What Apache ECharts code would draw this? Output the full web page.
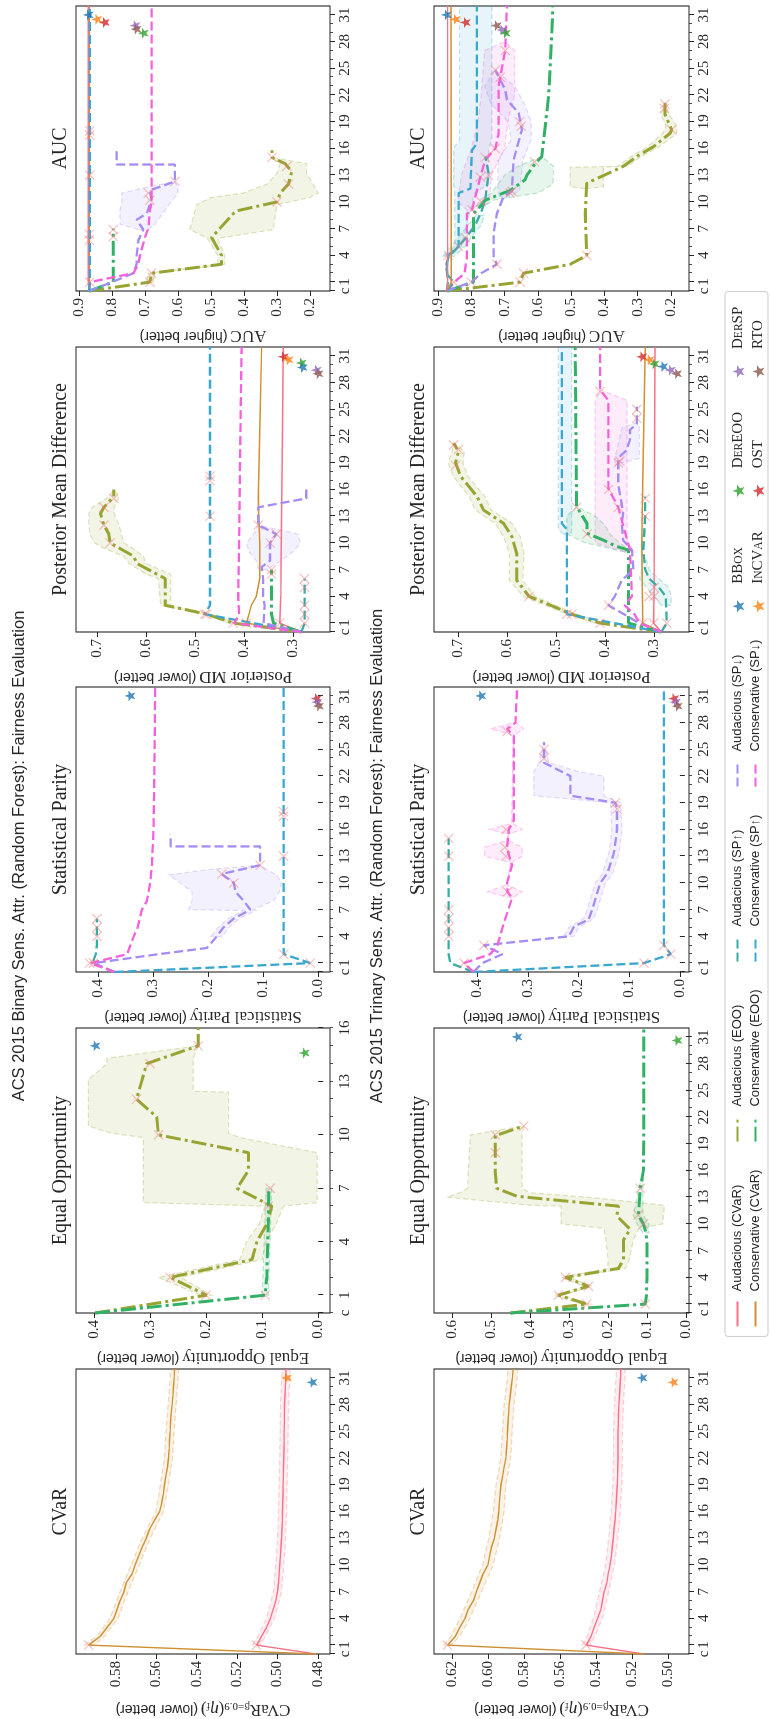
<!DOCTYPE html>
<html><head><meta charset="utf-8">
<script src="https://cdn.jsdelivr.net/npm/echarts@6/dist/echarts.min.js"></script>
<style>
html,body{margin:0;padding:0;background:#fff;width:771px;height:1719px;overflow:hidden}
#chart{position:absolute;left:0;top:0;width:1719px;height:771px;transform-origin:0 0;transform:translate(0,1719px) rotate(-90deg);background:#fff}
</style></head><body><div id="chart"></div>
<script>
// ================= DATA =================
// x tick labels / minor ticks
const XT32 = [0,1,4,7,10,13,16,19,22,25,28,31];
const XM32 = [0,1,2,3,4,5,6,7,8,9,10,11,12,13,14,15,16,17,18,19,20,21,22,23,24,25,26,27,28,29,30,31];
const XT16 = [0,1,4,7,10,13,16];
const XM16 = [0,1,2,3,4,5,6,7,8,9,10,11,12,13,14,15,16];
// y tick labels
const YT_B_CV = [0.48,0.50,0.52,0.54,0.56,0.58];
const YT_B_EO = [0.0,0.1,0.2,0.3,0.4];
const YT_B_SP = [0.0,0.1,0.2,0.3,0.4];
const YT_B_PM = [0.3,0.4,0.5,0.6,0.7];
const YT_B_AU = [0.2,0.3,0.4,0.5,0.6,0.7,0.8,0.9];
const YT_T_CV = [0.50,0.52,0.54,0.56,0.58,0.60,0.62];
const YT_T_EO = [0.0,0.1,0.2,0.3,0.4,0.5,0.6];
const YT_T_SP = [0.0,0.1,0.2,0.3,0.4];
const YT_T_PM = [0.3,0.4,0.5,0.6,0.7];
const YT_T_AU = [0.2,0.3,0.4,0.5,0.6,0.7,0.8,0.9];
// y axis limits
const YR_B_CV=[0.474,0.5998], YR_B_EO=[-0.021,0.432], YR_B_SP=[-0.022,0.44], YR_B_PM=[0.2245,0.743], YR_B_AU=[0.139,0.909];
const YR_T_CV=[0.4884,0.6299], YR_T_EO=[-0.008,0.646], YR_T_SP=[-0.018,0.485], YR_T_PM=[0.2286,0.749], YR_T_AU=[0.146,0.912];

// ---------- Binary: CVaR ----------
const B_CV_aud = [[0,0.481],[1,0.5104],[2,0.5079],[3,0.5054],[4,0.5035],[5,0.5022],[6,0.5008],[7,0.5],[8,0.4995],[9,0.4992],[10,0.4989],[11,0.4986],[12,0.4983],[13,0.498],[14,0.4978],[15,0.4976],[16,0.4975],[17,0.4974],[18,0.4973],[19,0.4972],[20,0.4971],[21,0.497],[22,0.4969],[23,0.4968],[24,0.4967],[25,0.4967],[26,0.4966],[27,0.4966],[28,0.4965],[29,0.4963],[30,0.4961],[31,0.4959],[32,0.4958]];
const B_CV_con = [[0,0.481],[1,0.5935],[2,0.5877],[3,0.5844],[4,0.581],[5,0.5795],[6,0.578],[7,0.576],[8,0.5749],[9,0.572],[10,0.5705],[11,0.5688],[12,0.567],[13,0.565],[14,0.5634],[15,0.561],[16,0.5584],[17,0.5573],[18,0.5565],[19,0.556],[20,0.5553],[21,0.5545],[22,0.554],[23,0.5537],[24,0.5535],[25,0.5532],[26,0.553],[27,0.5527],[28,0.5522],[29,0.5518],[30,0.5515],[31,0.5512],[32,0.551]];
const B_CV_audBand = [[1,0.5085,0.5123],[2,0.506,0.5098],[4,0.5015,0.5055],[7,0.498,0.502],[10,0.4969,0.5009],[13,0.496,0.5],[16,0.4955,0.4995],[19,0.4952,0.4992],[22,0.4949,0.4989],[25,0.4947,0.4987],[28,0.4945,0.4985],[31,0.4939,0.4979],[32,0.4938,0.4978]];
const B_CV_conBand = [[1,0.591,0.5955],[2,0.5855,0.5895],[4,0.579,0.583],[7,0.574,0.578],[10,0.5685,0.5725],[13,0.563,0.567],[16,0.5565,0.5603],[19,0.554,0.558],[22,0.552,0.556],[25,0.5512,0.5552],[28,0.5502,0.5542],[31,0.5492,0.5532],[32,0.549,0.553]];
const B_CV_marks = [[1,0.5935],[1,0.5104]];
const B_CV_stars = [['InCVaR',31,0.4956],['BBox',30.5,0.4829]];

// ---------- Binary: Equal Opportunity ----------
const B_EO_audEOO = [[0,0.398],[1,0.199],[2,0.264],[3,0.118],[4,0.1095],[5,0.0917],[6,0.0827],[7,0.145],[8,0.1244],[9,0.1244],[10,0.285],[11,0.288],[12,0.324],[13,0.315],[14,0.306],[15,0.214],[16,0.214]];
const B_EO_conEOO = [[0,0.398],[1,0.0946],[2,0.092],[3,0.091],[4,0.09],[5,0.089],[6,0.0885],[7,0.088]];
const B_EO_audEOOBand = [[1,0.19,0.21],[2,0.245,0.285],[3,0.1,0.14],[4,0.093,0.128],[5,0.075,0.105],[6,0.062,0.095],[6.2,0.002,0.312],[9,0.002,0.312],[9.85,0.14,0.312],[10.1,0.16,0.37],[10.5,0.16,0.41],[12.4,0.16,0.41],[12.45,0.223,0.41],[13.1,0.223,0.41],[14,0.223,0.377],[14.3,0.223,0.377],[15,0.214,0.214]];
const B_EO_conEOOBand = [[1,0.089,0.1],[7,0.083,0.093]];
const B_EO_marks = [[1,0.2],[1,0.0946],[2,0.264],[6,0.089],[7,0.0857],[10,0.285],[12,0.324],[14,0.3],[15,0.214]];
const B_EO_stars = [['BBox',15,0.398],['DerEOO',14.6,0.025]];

// ---------- Binary: Statistical Parity ----------
const B_SP_conSPd = [[0,0.37],[1,0.414],[2,0.347],[3,0.341],[4,0.335],[5,0.328],[6,0.324],[7,0.32],[8,0.311],[9,0.308],[10,0.305],[12,0.302],[16,0.299],[20,0.298],[25,0.297],[32,0.296]];
const B_SP_audSPd = [[0,0.37],[1,0.408],[2,0.29],[2.7,0.202],[4,0.184],[5,0.172],[6,0.153],[7,0.123],[8,0.135],[9,0.15],[10,0.153],[11,0.175],[12,0.105],[14.1,0.105],[14.1,0.268],[15.5,0.268]];
const B_SP_audSPdBand = [[4,0.174,0.194],[5,0.162,0.182],[6,0.143,0.163],[6.9,0.113,0.135],[7,0.117,0.235],[8,0.081,0.229],[9,0.07,0.229],[10,0.066,0.25],[10.9,0.075,0.271],[11.5,0.093,0.2],[12,0.105,0.105]];
const B_SP_audSPu = [[0,0.37],[1,0.41],[2,0.404],[3,0.402],[6,0.402]];
const B_SP_conSPu = [[0,0.37],[1,0.014],[2,0.062],[3,0.0624],[32,0.0624]];
const B_SP_marks = [[1,0.415],[1,0.408],[1,0.014],[2,0.062],[4,0.402],[5,0.402],[6,0.402],[10,0.153],[11,0.175],[12,0.105],[13,0.0624],[17.5,0.0624],[18,0.0624]];
const B_SP_stars = [['BBox',31,0.342],['OST',30.7,0.003],['DerSP',30.3,0.002],['RTO',29.85,-0.001]];

// ---------- Binary: Posterior Mean Difference ----------
const B_PM_audEOO = [[0,0.283],[1,0.422],[2,0.476],[3,0.561],[6,0.561],[7.7,0.619],[8.5,0.625],[10,0.673],[11,0.676],[12,0.686],[13.3,0.693],[14,0.686],[15.2,0.666],[16,0.666]];
const B_PM_audEOOBand = [[1,0.415,0.43],[2,0.468,0.484],[3,0.55,0.57],[6,0.55,0.575],[6.5,0.55,0.6],[7.7,0.6,0.635],[8.5,0.605,0.645],[9.5,0.63,0.69],[10,0.645,0.705],[11,0.65,0.715],[12,0.655,0.717],[13.3,0.665,0.717],[14,0.665,0.71],[15.2,0.655,0.675],[16,0.666,0.666]];
const B_PM_conSPu = [[0,0.283],[2,0.48],[3,0.4695],[32,0.4695]];
const B_PM_conSPd = [[0,0.283],[1,0.42],[2,0.41],[4,0.412],[10,0.41],[20,0.408],[32,0.405]];
const B_PM_conCVaR = [[0,0.283],[1,0.395],[3,0.385],[4,0.375],[6,0.368],[10,0.368],[13,0.37],[15,0.371],[20,0.369],[25,0.367],[32,0.364]];
const B_PM_audSPd = [[0,0.283],[1,0.36],[3,0.358],[4,0.361],[6,0.361],[7.3,0.364],[8,0.347],[10,0.347],[11,0.334],[12,0.371],[14,0.371],[15,0.273],[16,0.273]];
const B_PM_audSPdBand = [[7,0.355,0.37],[8,0.325,0.375],[9,0.3,0.39],[10,0.285,0.395],[11,0.29,0.38],[12,0.371,0.371]];
const B_PM_conEOO = [[0,0.283],[1,0.34],[2,0.344],[7,0.344]];
const B_PM_audCVaR = [[0,0.283],[1,0.327],[4,0.325],[10,0.324],[20,0.322],[32,0.32]];
const B_PM_audSPu = [[0,0.283],[1,0.2763],[6,0.2763]];
const B_PM_marks = [[1,0.422],[2,0.476],[2,0.48],[1,0.395],[1,0.327],[1,0.2763],[2,0.2763],[3,0.2763],[5,0.2763],[6,0.2763],[6.5,0.344],[7,0.344],[10,0.6735],[12,0.686],[14,0.686],[15,0.666],[10,0.347],[11,0.334],[12,0.371],[13,0.4695],[17,0.4695],[17.5,0.4695]];
const B_PM_stars = [['OST',30.9,0.32],['InCVaR',30.56,0.31],['DerEOO',30.2,0.283],['BBox',29.7,0.281],['DerSP',29.4,0.2525],['RTO',29.0,0.249]];

// ---------- Binary: AUC ----------
const B_AU_audCVaR = [[0,0.869],[1,0.872],[32,0.872]];
const B_AU_conCVaR = [[0,0.869],[1,0.869],[32,0.869]];
const B_AU_conSPu = [[0,0.869],[1,0.867],[32,0.867]];
const B_AU_audSPu = [[0,0.869],[1,0.869],[6,0.869]];
const B_AU_audEOO = [[0,0.869],[1,0.685],[2,0.68],[3,0.468],[4,0.468],[6,0.498],[8.7,0.432],[9,0.422],[10,0.30],[11,0.29],[12,0.265],[13.4,0.255],[14.3,0.275],[15,0.315],[15.8,0.315]];
const B_AU_audEOOBand = [[1,0.675,0.695],[2,0.67,0.69],[3,0.458,0.478],[4,0.458,0.48],[5.9,0.48,0.51],[6.9,0.311,0.564],[9.7,0.30,0.543],[10.5,0.2,0.5],[11,0.175,0.402],[12,0.19,0.33],[13.2,0.21,0.3],[14.3,0.21,0.29],[15,0.315,0.315]];
const B_AU_conEOO = [[0,0.869],[1,0.796],[7,0.796]];
const B_AU_audSPd = [[0,0.869],[1,0.8],[2,0.735],[3,0.725],[4,0.725],[5.7,0.72],[6.9,0.705],[8,0.725],[8.7,0.695],[10.2,0.68],[11.3,0.685],[12.3,0.609],[14.2,0.609],[14.2,0.786],[15.8,0.786]];
const B_AU_audSPdBand = [[6.9,0.69,0.72],[7.5,0.67,0.775],[9,0.64,0.776],[10,0.62,0.77],[11,0.6,0.77],[11.6,0.6,0.7],[12.3,0.609,0.609]];
const B_AU_conSPd = [[0,0.869],[1,0.867],[2,0.735],[3,0.72],[4,0.715],[6,0.7],[7,0.69],[9,0.685],[10,0.68],[32,0.68]];
const B_AU_marks = [[1,0.685],[2,0.68],[1,0.867],[5.7,0.869],[6.4,0.869],[6.1,0.796],[6.9,0.796],[10,0.30],[12,0.265],[14,0.27],[15,0.315],[10.2,0.685],[11,0.69],[12.3,0.609],[13,0.867],[17.5,0.867],[18,0.867]];
const B_AU_stars = [['BBox',31,0.872],['InCVaR',30.5,0.846],['OST',30.15,0.823],['DerSP',29.8,0.73],['RTO',29.4,0.727],['DerEOO',28.95,0.705]];

// ---------- Trinary: CVaR ----------
const T_CV_con = [[0,0.5136],[1,0.6224],[2,0.618],[3,0.6155],[4,0.6127],[5,0.611],[6,0.608],[7,0.6064],[8,0.6045],[9,0.6027],[10,0.600],[11,0.599],[12,0.598],[13,0.5964],[14,0.5955],[15,0.5945],[16,0.594],[17,0.5936],[18,0.5932],[19,0.5927],[20,0.5918],[21,0.591],[22,0.590],[23,0.5897],[24,0.5893],[25,0.5891],[26,0.5888],[27,0.5885],[28,0.5882],[29,0.5876],[30,0.587],[31,0.5864],[32,0.586]];
const T_CV_aud = [[0,0.5136],[1,0.5455],[2,0.5427],[3,0.541],[4,0.5391],[5,0.5373],[6,0.5364],[7,0.5355],[8,0.534],[9,0.5333],[10,0.5322],[11,0.5315],[12,0.531],[13,0.5304],[14,0.53],[15,0.5295],[16,0.5291],[17,0.5288],[18,0.5285],[19,0.5282],[20,0.528],[21,0.5279],[22,0.5278],[23,0.5278],[24,0.5278],[25,0.5278],[26,0.5276],[27,0.5275],[28,0.5273],[29,0.527],[30,0.5267],[31,0.5264],[32,0.5263]];
const T_CV_conBand = [[1,0.6205,0.6245],[2,0.6155,0.6205],[4,0.61,0.6155],[7,0.6035,0.609],[10,0.597,0.603],[13,0.5935,0.5995],[16,0.591,0.597],[19,0.59,0.5955],[22,0.5873,0.5928],[25,0.5865,0.592],[28,0.5855,0.591],[31,0.5837,0.5892],[32,0.5833,0.5888]];
const T_CV_audBand = [[1,0.5435,0.5475],[2,0.5405,0.545],[4,0.5365,0.5415],[7,0.533,0.538],[10,0.5297,0.5347],[13,0.5279,0.533],[16,0.5266,0.5316],[19,0.5257,0.5307],[22,0.5253,0.5303],[25,0.5253,0.5303],[28,0.5248,0.5298],[31,0.5239,0.5289],[32,0.5238,0.5288]];
const T_CV_marks = [[1,0.6224],[1,0.5455]];
const T_CV_stars = [['BBox',31,0.5145],['InCVaR',30.5,0.4973]];

// ---------- Trinary: Equal Opportunity ----------
const T_EO_audEOO = [[0,0.45],[1,0.254],[2,0.327],[3,0.25],[4,0.309],[5,0.173],[6,0.16],[8.2,0.16],[9.4,0.143],[10.9,0.177],[12,0.173],[13.1,0.433],[14,0.485],[15.8,0.489],[18,0.489],[19.9,0.489],[21,0.416]];
const T_EO_audEOOBand = [[1,0.245,0.265],[2,0.317,0.337],[3,0.24,0.26],[4,0.3,0.32],[5,0.155,0.2],[6,0.145,0.2],[8.2,0.135,0.205],[9.5,0.12,0.21],[10,0.06,0.32],[12,0.055,0.32],[12.1,0.055,0.4],[13,0.25,0.613],[13.5,0.4,0.58],[14,0.42,0.56],[20,0.42,0.553],[21,0.416,0.416]];
const T_EO_conEOO = [[0,0.45],[1,0.104],[2,0.101],[4,0.1],[8,0.1],[9,0.102],[10,0.109],[11,0.122],[12,0.12],[14,0.117],[16,0.109],[20,0.108],[25,0.108],[32,0.108]];
const T_EO_conEOOBand = [[9,0.095,0.11],[10,0.095,0.125],[11,0.11,0.135],[12,0.11,0.13],[13,0.11,0.125],[14,0.11,0.123],[15,0.109,0.113]];
const T_EO_marks = [[1,0.254],[1,0.104],[2,0.327],[3,0.25],[4,0.309],[10,0.109],[11,0.122],[14,0.117],[18,0.489],[20,0.489],[21,0.416]];
const T_EO_stars = [['BBox',31,0.433],['DerEOO',30.6,0.023]];

// ---------- Trinary: Statistical Parity ----------
const T_SP_audSPu = [[0,0.407],[1,0.453],[2,0.456],[15,0.456]];
const T_SP_conSPu = [[0,0.407],[1,0.071],[2,0.018],[3,0.0316],[32,0.0316]];
const T_SP_conSPd = [[0,0.407],[1,0.426],[2,0.374],[3,0.36],[5.5,0.347],[8.3,0.331],[9,0.34],[10,0.341],[12,0.331],[13.8,0.341],[16,0.3375],[17,0.3276],[26.5,0.3276],[27.3,0.341],[28,0.3243],[32,0.321]];
const T_SP_conSPdBand = [[8.3,0.331,0.331],[9,0.311,0.38],[9.8,0.34,0.342],[12.3,0.332,0.334],[13,0.311,0.385],[14,0.311,0.385],[14.8,0.339,0.341],[15.5,0.337,0.339],[16,0.311,0.375],[16.7,0.33,0.332],[26.6,0.327,0.329],[27.3,0.308,0.374],[28,0.323,0.326]];
const T_SP_audSPd = [[0,0.407],[1,0.39],[2,0.35],[3,0.387],[4,0.219],[5.1,0.209],[5.9,0.18],[7,0.173],[10,0.157],[11.1,0.143],[13.4,0.13],[16,0.124],[18.3,0.124],[19,0.127],[19.8,0.216],[22,0.216],[23.5,0.268],[25.8,0.268]];
const T_SP_audSPdBand = [[4,0.209,0.229],[5,0.199,0.219],[6,0.17,0.19],[7,0.163,0.183],[10,0.147,0.167],[11,0.133,0.153],[13.4,0.12,0.14],[16,0.114,0.134],[19,0.117,0.137],[19.8,0.15,0.288],[22,0.15,0.288],[22.5,0.2,0.288],[23.5,0.258,0.278],[25.8,0.268,0.268]];
const T_SP_marks = [[1,0.426],[1,0.071],[2,0.018],[3,0.0316],[3,0.387],[4,0.456],[5,0.456],[6,0.456],[7,0.456],[13,0.456],[15,0.456],[9,0.34],[13,0.343],[14,0.345],[16,0.343],[27,0.341],[18.3,0.124],[19,0.127],[24,0.268],[25,0.268]];
const T_SP_stars = [['BBox',31,0.393],['OST',30.7,0.012],['DerSP',30.3,0.009],['RTO',29.85,0.005]];

// ---------- Trinary: Posterior Mean Difference ----------
const T_PM_audEOO = [[0,0.285],[1,0.41],[2,0.468],[2.7,0.498],[4,0.555],[5.8,0.58],[8.8,0.58],[10.7,0.59],[12.2,0.607],[13.7,0.648],[15.2,0.661],[17.5,0.695],[19,0.705],[20.3,0.699],[21.2,0.709]];
const T_PM_audEOOBand = [[1,0.4,0.42],[2,0.458,0.478],[4,0.543,0.567],[5.8,0.568,0.595],[8.8,0.565,0.595],[10.7,0.573,0.607],[12.2,0.59,0.625],[13.7,0.632,0.665],[15.2,0.645,0.677],[17.5,0.68,0.71],[19,0.69,0.72],[20.3,0.687,0.712],[21.2,0.709,0.709]];
const T_PM_conSPu = [[0,0.285],[2,0.478],[3,0.478],[11.5,0.478],[12.2,0.488],[32,0.488]];
const T_PM_conSPuBand = [[11,0.47,0.485],[11.5,0.468,0.495],[32,0.468,0.495]];
const T_PM_conEOO = [[0,0.285],[1,0.352],[9.2,0.352],[9.6,0.376],[10.3,0.403],[11.1,0.437],[12.2,0.437],[14.1,0.458],[32,0.461]];
const T_PM_conEOOBand = [[9,0.345,0.36],[10,0.37,0.44],[11,0.39,0.478],[12,0.4,0.478],[13,0.42,0.478],[14.1,0.458,0.458]];
const T_PM_conSPd = [[0,0.285],[1,0.33],[2,0.34],[3,0.36],[4,0.345],[9.2,0.349],[14,0.373],[16.1,0.393],[19.3,0.393],[26,0.393],[27.2,0.41],[32,0.41]];
const T_PM_conSPdBand = [[9,0.34,0.36],[10,0.355,0.42],[26,0.355,0.42],[27.2,0.41,0.41]];
const T_PM_audSPd = [[0,0.285],[1,0.33],[3,0.393],[4,0.38],[5.8,0.366],[7,0.342],[9.2,0.345],[10.3,0.363],[12.2,0.366],[13.3,0.363],[16.7,0.373],[19.3,0.373],[19.7,0.37],[20.4,0.356],[21.6,0.349],[22.7,0.349],[23.4,0.335],[25.3,0.335]];
const T_PM_audSPdBand = [[19,0.365,0.38],[19.5,0.33,0.38],[23,0.33,0.365],[23.5,0.335,0.335]];
const T_PM_audSPu = [[0,0.285],[1,0.274],[4,0.276],[5,0.29],[6,0.31],[7,0.318],[9.2,0.322],[13,0.318],[15.2,0.318]];
const T_PM_audSPuBand = [[3,0.265,0.285],[4,0.265,0.3],[5,0.27,0.315],[6,0.29,0.33],[7,0.31,0.325],[8,0.315,0.325]];
const T_PM_conCVaR = [[0,0.285],[1,0.323],[10,0.325],[20,0.322],[32,0.318]];
const T_PM_audCVaR = [[0,0.285],[1,0.301],[4,0.3],[32,0.298]];
const T_PM_marks = [[1,0.41],[2,0.468],[4,0.555],[18.7,0.705],[20.5,0.699],[21,0.709],[2,0.478],[11,0.437],[14,0.458],[14,0.373],[16,0.393],[27,0.41],[3,0.393],[19,0.373],[19.2,0.37],[24,0.335],[25,0.335],[1,0.274],[4,0.31],[5,0.30],[13,0.318],[15,0.318],[1,0.301],[1,0.323],[4,0.3]];
const T_PM_stars = [['OST',30.9,0.325],['InCVaR',30.56,0.31],['DerEOO',30.1,0.30],['BBox',29.8,0.282],['DerSP',29.4,0.267],['RTO',29.0,0.254]];

// ---------- Trinary: AUC ----------
const T_AU_audCVaR = [[0,0.873],[1,0.871],[32,0.871]];
const T_AU_conCVaR = [[0,0.873],[1,0.86],[32,0.861]];
const T_AU_conSPu = [[0,0.873],[1,0.853],[2,0.875],[4,0.87],[5,0.838],[11,0.838],[11.5,0.803],[15.8,0.798],[16.6,0.783],[32,0.783]];
const T_AU_conSPuBand = [[4,0.86,0.88],[5,0.83,0.85],[11,0.79,0.85],[12,0.748,0.853],[16,0.748,0.853],[17,0.738,0.835],[32,0.738,0.835]];
const T_AU_audSPu = [[0,0.873],[1,0.87],[3,0.875],[3.9,0.868],[5,0.838],[5.9,0.818],[7.4,0.788],[9.1,0.768],[10.2,0.758],[13.2,0.748],[15.1,0.758]];
const T_AU_audSPuBand = [[3.9,0.85,0.885],[5,0.82,0.86],[6,0.8,0.84],[7.4,0.77,0.81],[8.5,0.76,0.785]];
const T_AU_conEOO = [[0,0.873],[1,0.793],[8.7,0.793],[9.5,0.773],[10.2,0.758],[11.3,0.683],[12.5,0.638],[13,0.633],[14.3,0.608],[15.1,0.588],[18.5,0.578],[21.8,0.568],[25.2,0.563],[29,0.558],[32,0.555]];
const T_AU_conEOOBand = [[9.5,0.76,0.785],[10.2,0.735,0.775],[11,0.6,0.74],[12,0.555,0.72],[13,0.553,0.70],[14,0.553,0.66],[15.1,0.588,0.588]];
const T_AU_audSPd = [[0,0.873],[1,0.8],[2,0.77],[3,0.723],[3.9,0.733],[6.5,0.733],[8.7,0.723],[10.6,0.703],[11.2,0.678],[14.7,0.673],[18.1,0.648],[20,0.658],[21.5,0.693],[22.6,0.698],[23.7,0.713],[24.8,0.728]];
const T_AU_audSPdBand = [[10.6,0.69,0.715],[11.2,0.655,0.72],[14.7,0.645,0.72],[17,0.62,0.68],[19,0.62,0.69],[21,0.64,0.74],[23,0.67,0.76],[24.8,0.728,0.728]];
const T_AU_conSPd = [[0,0.873],[1,0.85],[2,0.82],[3.9,0.813],[8.7,0.813],[9.1,0.798],[12.8,0.773],[14.7,0.758],[16,0.728],[17.7,0.718],[23,0.718],[24,0.713],[27.1,0.698],[32,0.693]];
const T_AU_conSPdBand = [[9,0.79,0.81],[10,0.745,0.84],[13,0.74,0.83],[16,0.70,0.80],[19,0.69,0.78],[22,0.67,0.77],[27,0.67,0.76],[28,0.698,0.698]];
const T_AU_audEOO = [[0,0.873],[1,0.653],[2,0.643],[3,0.503],[4,0.453],[4.2,0.448],[8.7,0.458],[12.1,0.453],[14,0.343],[15.1,0.303],[16.2,0.253],[17.7,0.203],[18.1,0.198],[19.8,0.218],[21.1,0.218]];
const T_AU_audEOOBand = [[11.5,0.453,0.458],[11.7,0.403,0.503],[13.9,0.403,0.503],[14,0.33,0.36],[15.1,0.29,0.32],[16.2,0.235,0.27],[17.7,0.183,0.225],[18.5,0.183,0.215],[19.8,0.205,0.23],[21.1,0.218,0.218]];
const T_AU_marks = [[1,0.653],[2,0.643],[4,0.453],[18.1,0.198],[20.5,0.22],[21,0.218],[1,0.853],[1,0.8],[3,0.723],[4,0.87],[5,0.838],[6,0.818],[13,0.748],[15,0.758],[11,0.683],[14.5,0.61],[11.2,0.678],[18.5,0.65],[19,0.655],[24,0.713],[24.8,0.728],[9.1,0.798],[12.8,0.773],[16,0.728],[27,0.698],[10,0.77]];
const T_AU_stars = [['BBox',31,0.875],['InCVaR',30.5,0.848],['OST',30.15,0.818],['RTO',29.8,0.725],['DerSP',29.3,0.708],['DerEOO',28.95,0.698]];

// ================= STYLE / LAYOUT =================
const SERIF = '"Liberation Serif","DejaVu Serif",serif';
const SANS = '"Liberation Sans","DejaVu Sans",sans-serif';
const INK = '#262626';
const N = {aC:'Audacious (CVaR)',cC:'Conservative (CVaR)',aE:'Audacious (EOO)',cE:'Conservative (EOO)',aU:'Audacious (SP↑)',cU:'Conservative (SP↑)',aD:'Audacious (SP↓)',cD:'Conservative (SP↓)'};
const COL = {};
COL[N.aC]='#f77189'; COL[N.cC]='#ce9032'; COL[N.aE]='#97a431'; COL[N.cE]='#32b166';
COL[N.aU]='#36ada4'; COL[N.cU]='#39a7d0'; COL[N.aD]='#a48cf4'; COL[N.cD]='#f561dd';
COL.BBox='#1f77b4'; COL.InCVaR='#ff7f0e'; COL.DerEOO='#2ca02c'; COL.OST='#d62728'; COL.DerSP='#9467bd'; COL.RTO='#8c564b';
function lsFor(nm){
  if (nm.indexOf('CVaR')>=0) return {width:1.4,type:'solid'};
  if (nm.indexOf('EOO')>=0) return {width:3,type:[15,4,3,4]};
  return {width:2.3,type:[9,4]};
}
const GX=[65,406,747,1087,1428], GW=285, GY=[76,434], GH=[254,255];
const TITLES=['CVaR','Equal Opportunity','Statistical Parity','Posterior Mean Difference','AUC'];
const YNAMES=['{s|CVaR}{sub|β=0.9}{s|(}{i|η}{sub|f}{s|)} {t|(lower better)}','{s|Equal Opportunity} {t|(lower better)}','{s|Statistical Parity} {t|(lower better)}','{s|Posterior MD} {t|(lower better)}','{s|AUC} {t|(higher better)}'];

const PANELS = [
 {row:0,col:0,xmax:32,xt:XT32,xm:XM32,yt:YT_B_CV,yr:YR_B_CV,yd:2,
  lines:[[N.aC,B_CV_aud],[N.cC,B_CV_con]], bands:[[N.aC,B_CV_audBand],[N.cC,B_CV_conBand]], marks:B_CV_marks, stars:B_CV_stars},
 {row:0,col:1,xmax:16,xt:XT16,xm:XM16,yt:YT_B_EO,yr:YR_B_EO,yd:1,
  lines:[[N.aE,B_EO_audEOO],[N.cE,B_EO_conEOO]], bands:[[N.aE,B_EO_audEOOBand],[N.cE,B_EO_conEOOBand]], marks:B_EO_marks, stars:B_EO_stars},
 {row:0,col:2,xmax:32,xt:XT32,xm:XM32,yt:YT_B_SP,yr:YR_B_SP,yd:1,
  lines:[[N.aU,B_SP_audSPu],[N.cU,B_SP_conSPu],[N.aD,B_SP_audSPd],[N.cD,B_SP_conSPd]], bands:[[N.aD,B_SP_audSPdBand]], marks:B_SP_marks, stars:B_SP_stars},
 {row:0,col:3,xmax:32,xt:XT32,xm:XM32,yt:YT_B_PM,yr:YR_B_PM,yd:1,
  lines:[[N.aC,B_PM_audCVaR],[N.cC,B_PM_conCVaR],[N.aE,B_PM_audEOO],[N.cE,B_PM_conEOO],[N.aU,B_PM_audSPu],[N.cU,B_PM_conSPu],[N.aD,B_PM_audSPd],[N.cD,B_PM_conSPd]],
  bands:[[N.aE,B_PM_audEOOBand],[N.aD,B_PM_audSPdBand]], marks:B_PM_marks, stars:B_PM_stars},
 {row:0,col:4,xmax:32,xt:XT32,xm:XM32,yt:YT_B_AU,yr:YR_B_AU,yd:1,
  lines:[[N.aE,B_AU_audEOO],[N.cE,B_AU_conEOO],[N.aD,B_AU_audSPd],[N.cD,B_AU_conSPd],[N.aU,B_AU_audSPu],[N.cC,B_AU_conCVaR],[N.aC,B_AU_audCVaR],[N.cU,B_AU_conSPu]],
  bands:[[N.aE,B_AU_audEOOBand],[N.aD,B_AU_audSPdBand]], marks:B_AU_marks, stars:B_AU_stars},
 {row:1,col:0,xmax:32,xt:XT32,xm:XM32,yt:YT_T_CV,yr:YR_T_CV,yd:2,
  lines:[[N.aC,T_CV_aud],[N.cC,T_CV_con]], bands:[[N.aC,T_CV_audBand],[N.cC,T_CV_conBand]], marks:T_CV_marks, stars:T_CV_stars},
 {row:1,col:1,xmax:32,xt:XT32,xm:XM32,yt:YT_T_EO,yr:YR_T_EO,yd:1,
  lines:[[N.aE,T_EO_audEOO],[N.cE,T_EO_conEOO]], bands:[[N.aE,T_EO_audEOOBand],[N.cE,T_EO_conEOOBand]], marks:T_EO_marks, stars:T_EO_stars},
 {row:1,col:2,xmax:32,xt:XT32,xm:XM32,yt:YT_T_SP,yr:YR_T_SP,yd:1,
  lines:[[N.aU,T_SP_audSPu],[N.cU,T_SP_conSPu],[N.aD,T_SP_audSPd],[N.cD,T_SP_conSPd]], bands:[[N.aD,T_SP_audSPdBand],[N.cD,T_SP_conSPdBand]], marks:T_SP_marks, stars:T_SP_stars},
 {row:1,col:3,xmax:32,xt:XT32,xm:XM32,yt:YT_T_PM,yr:YR_T_PM,yd:1,
  lines:[[N.aC,T_PM_audCVaR],[N.cC,T_PM_conCVaR],[N.aE,T_PM_audEOO],[N.cE,T_PM_conEOO],[N.aU,T_PM_audSPu],[N.cU,T_PM_conSPu],[N.aD,T_PM_audSPd],[N.cD,T_PM_conSPd]],
  bands:[[N.aE,T_PM_audEOOBand],[N.cU,T_PM_conSPuBand],[N.cE,T_PM_conEOOBand],[N.cD,T_PM_conSPdBand],[N.aD,T_PM_audSPdBand],[N.aU,T_PM_audSPuBand]], marks:T_PM_marks, stars:T_PM_stars},
 {row:1,col:4,xmax:32,xt:XT32,xm:XM32,yt:YT_T_AU,yr:YR_T_AU,yd:1,
  lines:[[N.aE,T_AU_audEOO],[N.cE,T_AU_conEOO],[N.aD,T_AU_audSPd],[N.cD,T_AU_conSPd],[N.aU,T_AU_audSPu],[N.cU,T_AU_conSPu],[N.cC,T_AU_conCVaR],[N.aC,T_AU_audCVaR]],
  bands:[[N.aE,T_AU_audEOOBand],[N.cE,T_AU_conEOOBand],[N.aD,T_AU_audSPdBand],[N.cD,T_AU_conSPdBand],[N.aU,T_AU_audSPuBand],[N.cU,T_AU_conSPuBand]], marks:T_AU_marks, stars:T_AU_stars}
];

const STAR = 'path://M5,0L6.18,3.45L9.76,3.45L6.9,5.6L7.94,9.05L5,7L2.06,9.05L3.1,5.6L0.24,3.45L3.82,3.45Z';
const XMARK = 'path://M0,0.8L0.8,0L5,4.2L9.2,0L10,0.8L5.8,5L10,9.2L9.2,10L5,5.8L0.8,10L0,9.2L4.2,5Z';
function rgba(hex,a){const n=parseInt(hex.slice(1),16);return 'rgba('+(n>>16)+','+((n>>8)&255)+','+(n&255)+','+a+')';}

const RICH = {
  s:{fontFamily:SERIF,fontSize:17,color:INK},
  i:{fontFamily:SERIF,fontSize:17,fontStyle:'italic',color:INK},
  sub:{fontFamily:SERIF,fontSize:11,color:INK,padding:[7,0,0,0]},
  t:{fontFamily:SANS,fontSize:14,color:INK}
};

const grids=[], xAxes=[], yAxes=[], series=[], graphics=[];
PANELS.forEach((p,i)=>{
  grids.push({left:GX[p.col],top:GY[p.row],width:GW,height:GH[p.row],show:true,borderColor:INK,borderWidth:1.1,backgroundColor:'transparent',containLabel:false,outerBoundsMode:'none'});
  xAxes.push({gridIndex:i,type:'value',position:'bottom',min:0,max:p.xmax,axisLine:{show:false},splitLine:{show:false},
    axisTick:{show:true,customValues:p.xt,length:5,lineStyle:{color:INK,width:1}},
    axisLabel:{show:true,customValues:p.xt,formatter:v=>v===0?'c':String(v),fontFamily:SERIF,fontSize:15,color:INK,margin:8}});
  xAxes.push({gridIndex:i,type:'value',position:'bottom',min:0,max:p.xmax,axisLine:{show:false},splitLine:{show:false},
    axisTick:{show:true,customValues:p.xm,length:3,lineStyle:{color:INK,width:0.8}},axisLabel:{show:false}});
  yAxes.push({gridIndex:i,type:'value',position:'left',min:p.yr[0],max:p.yr[1],axisLine:{show:false},splitLine:{show:false},
    axisTick:{show:true,customValues:p.yt,length:5,lineStyle:{color:INK,width:1}},
    axisLabel:{show:true,customValues:p.yt,formatter:v=>v.toFixed(p.yd),fontFamily:SERIF,fontSize:15,color:INK,margin:7},
    name:YNAMES[p.col],nameLocation:'middle',nameGap:p.yd===2?46:36,nameTextStyle:{rich:RICH,color:INK}});
  p.bands.forEach(([nm,d])=>{
    const c=COL[nm];
    series.push({type:'custom',silent:true,xAxisIndex:2*i,yAxisIndex:i,z:1,clip:true,data:d,encode:{x:0,y:[1,2]},
      renderItem:(params,api)=>{
        if(params.dataIndex!==0) return null;
        const up=d.map(r=>api.coord([r[0],r[2]]));
        const lo=d.map(r=>api.coord([r[0],r[1]])).reverse();
        return {type:'polygon',shape:{points:up.concat(lo)},style:{fill:rgba(c,0.12),stroke:rgba(c,0.3),lineWidth:1.2,lineDash:[5,3]}};
      }});
  });
  p.lines.forEach(([nm,d])=>{
    const ls=lsFor(nm);
    series.push({type:'line',name:nm,data:d,xAxisIndex:2*i,yAxisIndex:i,symbol:'none',showSymbol:false,silent:true,z:3,clip:true,
      lineStyle:{color:COL[nm],width:ls.width,type:ls.type},itemStyle:{color:COL[nm]}});
  });
  series.push({type:'scatter',name:'_marks',data:p.marks,xAxisIndex:2*i,yAxisIndex:i,symbol:XMARK,symbolSize:10,silent:true,z:4,
    itemStyle:{color:'rgba(240,120,120,0.6)'}});
  p.stars.forEach(([nm,x,y])=>{
    series.push({type:'scatter',name:nm,data:[[x,y]],xAxisIndex:2*i,yAxisIndex:i,symbol:STAR,symbolSize:11,silent:true,z:5,
      itemStyle:{color:COL[nm]}});
  });
  graphics.push({type:'text',x:GX[p.col]+GW/2,y:GY[p.row]-5,z:10,style:{text:TITLES[p.col],fontFamily:SERIF,fontSize:20,fill:INK,textAlign:'center',textVerticalAlign:'bottom'}});
});
graphics.push({type:'text',x:863,y:19,z:10,style:{text:'ACS 2015 Binary Sens. Attr. (Random Forest): Fairness Evaluation',fontFamily:SANS,fontSize:16.5,fill:INK,textAlign:'center',textVerticalAlign:'middle'}});
graphics.push({type:'text',x:863,y:377,z:10,style:{text:'ACS 2015 Trinary Sens. Attr. (Random Forest): Fairness Evaluation',fontFamily:SANS,fontSize:16.5,fill:INK,textAlign:'center',textVerticalAlign:'middle'}});

// ---------- legend (matplotlib-like columns) ----------
const LEG_COLS=[[N.aC,N.cC],[N.aE,N.cE],[N.aU,N.cU],[N.aD,N.cD],['BBox','InCVaR'],['DerEOO','OST'],['DerSP','RTO']];
const SC={BBox:'{A|BB}{a|OX}',InCVaR:'{A|I}{a|N}{A|CV}{a|A}{A|R}',DerEOO:'{A|D}{a|ER}{A|EOO}',OST:'{A|OST}',DerSP:'{A|D}{a|ER}{A|SP}',RTO:'{A|RTO}'};
const SCP={BBox:[['BB',1],['OX',0]],InCVaR:[['I',1],['N',0],['CV',1],['A',0],['R',1]],DerEOO:[['D',1],['ER',0],['EOO',1]],OST:[['OST',1]],DerSP:[['D',1],['ER',0],['SP',1]],RTO:[['RTO',1]]};
const LFS=13, SCB=15, SCS=11.5, ICON_W=25, TXT_GAP=10, COL_SP=28, LEG_CENTER=905, LEG_TOP=725;
const ctx=document.createElement('canvas').getContext('2d');
function tw(nm){
  if(SCP[nm]){let w=0;SCP[nm].forEach(([t,big])=>{ctx.font=(big?SCB:SCS)+'px '+SERIF;w+=ctx.measureText(t).width;});return w;}
  ctx.font=LFS+'px '+SANS;return ctx.measureText(nm).width;
}
const colW=LEG_COLS.map(c=>ICON_W+TXT_GAP+Math.max(tw(c[0]),tw(c[1])));
const totW=colW.reduce((a,b)=>a+b,0)+COL_SP*(LEG_COLS.length-1);
let lx=LEG_CENTER-totW/2;
const legends=[];
LEG_COLS.forEach((c,k)=>{
  const isLine=k<4;
  legends.push({show:true,orient:'vertical',left:lx,top:LEG_TOP+6,padding:0,itemGap:5,itemWidth:ICON_W,itemHeight:12,selectedMode:false,
    data:c,formatter:nm=>SC[nm]||nm,
    itemStyle:isLine?{opacity:0}:{},
    textStyle:{fontFamily:SANS,fontSize:LFS,color:INK,padding:[0,0,0,TXT_GAP-5],rich:{A:{fontFamily:SERIF,fontSize:SCB,color:INK},a:{fontFamily:SERIF,fontSize:SCS,color:INK}}}});
  lx+=colW[k]+COL_SP;
});
graphics.push({type:'rect',z:-1,shape:{x:LEG_CENTER-totW/2-9,y:LEG_TOP,width:totW+18,height:43,r:3},style:{fill:'#fff',stroke:'#cccccc',lineWidth:1}});

const chart=echarts.init(document.getElementById('chart'),null,{renderer:'canvas',width:1719,height:771});
chart.setOption({animation:false,backgroundColor:'#fff',textStyle:{fontFamily:SERIF},
  grid:grids,xAxis:xAxes,yAxis:yAxes,series:series,legend:legends,graphic:graphics,tooltip:{show:false}});
</script></body></html>
